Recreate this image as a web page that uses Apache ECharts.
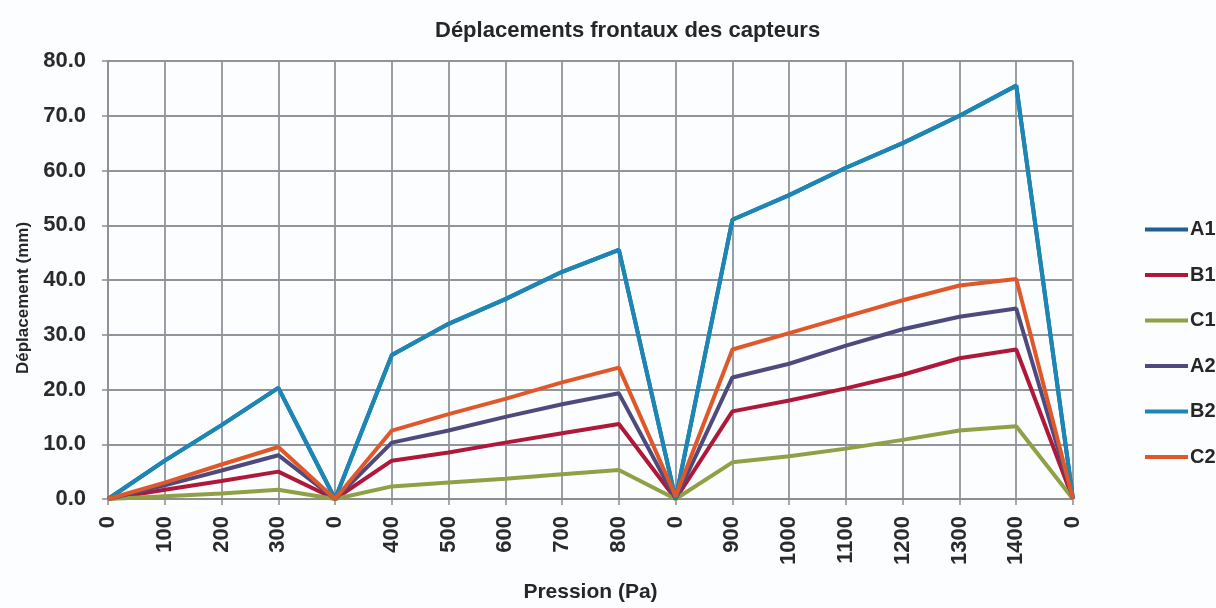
<!DOCTYPE html>
<html>
<head>
<meta charset="utf-8">
<script src="https://cdn.jsdelivr.net/npm/echarts@6/dist/echarts.min.js"></script>
<style>
  html, body { margin: 0; padding: 0; background: #fbfdfe; }
  #chart { width: 1216px; height: 608px; }
</style>
</head>
<body>
<div id="chart"></div>
<script>
// pression (Pa), the 0 columns are the unloading steps
var categories = ['0', '100', '200', '300', '0', '400', '500', '600', '700', '800', '0',
    '900', '1000', '1100', '1200', '1300', '1400', '0'];

var a1 = [0, 7.0, 13.5, 20.3, 0, 26.3, 32.0, 36.5, 41.5, 45.5, 0, 51.0, 55.5, 60.5, 65.0, 70.0, 75.5, 0];
var b1 = [0, 1.7, 3.3, 5.0, 0, 7.0, 8.5, 10.3, 12.0, 13.7, 0, 16.0, 18.0, 20.2, 22.7, 25.7, 27.3, 0];
var c1 = [0, 0.5, 1.0, 1.7, 0, 2.3, 3.0, 3.7, 4.5, 5.3, 0, 6.7, 7.8, 9.2, 10.8, 12.5, 13.3, 0];
var a2 = [0, 2.5, 5.2, 8.0, 0, 10.3, 12.5, 15.0, 17.3, 19.3, 0, 22.2, 24.7, 28.0, 31.0, 33.3, 34.8, 0];
var b2 = [0, 7.0, 13.5, 20.3, 0, 26.3, 32.0, 36.5, 41.5, 45.5, 0, 51.0, 55.5, 60.5, 65.0, 70.0, 75.5, 0];
var c2 = [0, 3.0, 6.3, 9.5, 0, 12.5, 15.5, 18.3, 21.3, 24.0, 0.5, 27.3, 30.3, 33.3, 36.3, 39.0, 40.2, 0];

var names = ['A1', 'B1', 'C1', 'A2', 'B2', 'C2'];
var colors = ['#1f5f96', '#b0183a', '#8fa046', '#4e4a7e', '#1c87b4', '#e0582a'];
var values = [a1, b1, c1, a2, b2, c2];

var myChart = echarts.init(document.getElementById('chart'));

var series = [];
for (var i = 0; i < names.length; i++) {
    series.push({
        name: names[i],
        type: 'line',
        data: values[i],
        symbol: 'none',
        lineStyle: {width: 4, color: colors[i]},
        itemStyle: {color: colors[i]}
    });
}

var option = {
    backgroundColor: '#fbfdfe',
    animation: false,
    textStyle: {fontFamily: 'Liberation Sans'},
    title: {
        text: 'Déplacements frontaux des capteurs',
        left: 430,
        top: 15,
        textStyle: {fontSize: 22, fontWeight: 'bold', color: '#262626'}
    },
    legend: {
        orient: 'vertical',
        left: 1140,
        top: 213,
        icon: 'rect',
        itemWidth: 43,
        itemHeight: 4,
        itemGap: 22.5,
        textStyle: {fontSize: 20, fontWeight: 'bold', color: '#262626', lineHeight: 23, padding: [0, 0, 0, -3]},
        data: names
    },
    grid: {left: 108, right: 143, top: 61, bottom: 108, containLabel: false},
    xAxis: {
        type: 'category',
        data: categories,
        boundaryGap: false,
        name: 'Pression (Pa)',
        nameLocation: 'middle',
        nameGap: 83,
        nameTextStyle: {fontSize: 21, fontWeight: 'bold', color: '#262626'},
        axisLine: {lineStyle: {color: '#8c8c8c', width: 1.5}},
        axisTick: {show: true, interval: 0, length: 6, lineStyle: {color: '#8c8c8c', width: 1.5}},
        axisLabel: {interval: 0, rotate: 90, fontSize: 22, fontWeight: 'bold', color: '#2a2a2a', margin: 17},
        splitLine: {show: true, interval: 0, lineStyle: {color: '#8f959a', width: 1.8}}
    },
    yAxis: {
        type: 'value',
        min: 0,
        max: 80,
        interval: 10,
        name: 'Déplacement (mm)',
        nameLocation: 'middle',
        nameGap: 75,
        nameTextStyle: {
            fontSize: 17,
            fontWeight: 'bold',
            color: '#262626',
            padding: [0, 0, 0, -36]
        },
        axisLine: {show: true, lineStyle: {color: '#8c8c8c', width: 1.5}},
        axisTick: {show: true, length: 6, lineStyle: {color: '#8c8c8c', width: 1.5}},
        axisLabel: {
            fontSize: 22,
            fontWeight: 'bold',
            color: '#2a2a2a',
            margin: 22,
            formatter: function (v) { return v.toFixed(1); }
        },
        splitLine: {show: true, lineStyle: {color: '#8f959a', width: 1.8}}
    },
    series: series
};

myChart.setOption(option);
</script>
</body>
</html>
